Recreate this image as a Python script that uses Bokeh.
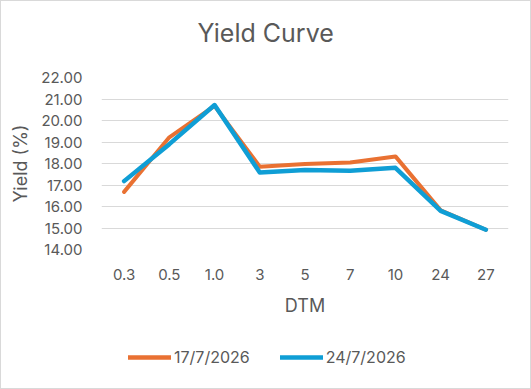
from bokeh.plotting import figure
from bokeh.layouts import column
from bokeh.models import Range1d, FixedTicker, NumeralTickFormatter, Legend, LegendItem, ColumnDataSource
from bokeh.embed import file_html
from bokeh.resources import INLINE

dtm = ["0.3", "0.5", "1.0", "3", "5", "7", "10", "24", "27"]
yield_17 = [16.68, 19.22, 20.68, 17.85, 17.98, 18.05, 18.33, 15.82, 14.92]
yield_24 = [17.18, 18.90, 20.72, 17.58, 17.70, 17.66, 17.80, 15.80, 14.92]
y_ticks = [14, 15, 16, 17, 18, 19, 20, 21, 22]
series_names = ["17/7/2026", "24/7/2026"]
series_colors = ["#E97132", "#0F9ED5"]

FONT = "Inter"
GREY = "#595959"

src = ColumnDataSource(dict(dtm=dtm, a=yield_17, b=yield_24))

# title strip
top = figure(width=529, height=62, x_range=dtm, y_range=Range1d(100, 101),
             output_backend="svg", toolbar_location=None,
             x_axis_location=None, y_axis_location=None, title="Yield Curve",
             min_border=0, min_border_left=0, min_border_right=0, min_border_top=0, min_border_bottom=0)
top.outline_line_color = None
top.xgrid.visible = False
top.ygrid.visible = False
top.title.align = "left"
top.title.offset = 96
top.title.text_font = FONT
top.title.text_font_size = "25px"
top.title.text_font_style = "normal"
top.title.text_color = GREY
top.title.standoff = 32

p = figure(width=529, height=268, x_range=dtm, y_range=Range1d(14, 22),
           output_backend="svg", toolbar_location=None, title=None,
           min_border_left=100, min_border_right=22, min_border_top=14, min_border_bottom=82)
p.outline_line_color = None

p.line("dtm", "a", source=src, line_color=series_colors[0], line_width=4, line_join="round", line_cap="round")
p.line("dtm", "b", source=src, line_color=series_colors[1], line_width=4.5, line_join="round", line_cap="round")

p.xgrid.grid_line_color = None
p.ygrid.grid_line_color = "#D9D9D9"
p.ygrid.grid_line_width = 1

p.yaxis.ticker = FixedTicker(ticks=y_ticks)
p.yaxis.formatter = NumeralTickFormatter(format="0.00")
for ax in (p.xaxis[0], p.yaxis[0]):
    ax.axis_line_color = None
    ax.major_tick_line_color = None
    ax.minor_tick_line_color = None
    ax.major_tick_out = 0
    ax.major_tick_in = 0
    ax.minor_tick_out = 0
    ax.major_label_text_font = FONT
    ax.major_label_text_font_size = "15px"
    ax.major_label_text_color = GREY
    ax.axis_label_text_font = FONT
    ax.axis_label_text_font_size = "18px"
    ax.axis_label_text_font_style = "normal"
    ax.axis_label_text_color = GREY

p.yaxis.axis_label = "Yield (%)"
p.yaxis.major_label_standoff = 19
p.yaxis.axis_label_standoff = 7
p.xaxis.axis_label = "DTM"
p.xaxis.major_label_standoff = 19
p.xaxis.axis_label_standoff = 12

# legend strip below the chart (series drawn out of view, only their legend shows)
lg = figure(width=529, height=57, x_range=dtm, y_range=Range1d(100, 101),
            output_backend="svg", toolbar_location=None,
            x_axis_location=None, y_axis_location=None,
            min_border=0, min_border_left=0, min_border_right=0, min_border_top=0, min_border_bottom=0)
lg.outline_line_color = None
lg.xgrid.visible = False
lg.ygrid.visible = False
items = []
for name, col, key in zip(series_names, series_colors, ["a", "b"]):
    r = lg.line("dtm", key, source=src, line_color=col, line_width=4.5, line_cap="round")
    items.append(LegendItem(label=name, renderers=[r]))
legend = Legend(items=items, orientation="horizontal", location=(27, 21),
                padding=0, margin=0, spacing=30, glyph_width=43, glyph_height=16,
                label_height=16, label_standoff=3,
                label_text_font=FONT, label_text_font_size="16px", label_text_color=GREY,
                background_fill_alpha=0, border_line_color=None)
lg.add_layout(legend, "center")

layout = column(top, p, lg, spacing=0)
layout.styles = {"border": "1px solid #d9d9d9"}

open("out.html", "w").write(file_html(layout, INLINE))
